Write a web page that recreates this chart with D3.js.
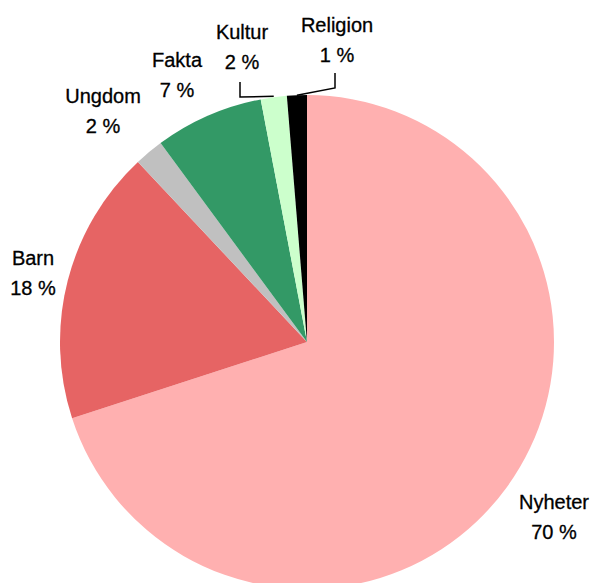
<!DOCTYPE html>
<html><head><meta charset="utf-8">
<script src="https://cdn.jsdelivr.net/npm/d3@7"></script>
<style>body{margin:0;background:#fff}svg{display:block}</style>
</head><body>
<svg id="c" width="593" height="583"></svg>
<script>
const categories = ["Nyheter","Barn","Ungdom","Fakta","Kultur","Religion"];
const values = [70.0, 18.0, 1.9, 7.1, 1.7, 1.3];
const percentLabels = ["70 %","18 %","2 %","7 %","2 %","1 %"];
const colors = ["#FFB0B0","#E66464","#C0C0C0","#339966","#CCFFCC","#000000"];

const svg = d3.select("#c");
const cx = 307, cy = 342, r = 247;
const g = svg.append("g").attr("transform", `translate(${cx},${cy})`);
const data = categories.map((c,i)=>({cat:c, value:values[i], label:percentLabels[i], color:colors[i]}));
const pie = d3.pie().value(d=>d.value).sort(null);
const arcs = pie(data);
const arc = d3.arc().innerRadius(0).outerRadius(r);
g.selectAll("path.s").data(arcs).join("path").attr("class","s")
  .attr("d", arc).attr("fill", d=>d.data.color);

// label positions (offsets from center, chosen to match layout)
const labelPos = {
  "Nyheter":[247,167], "Barn":[-274,-77], "Ungdom":[-204,-239],
  "Fakta":[-130,-275], "Kultur":[-65,-303], "Religion":[30,-310]
};
const lbl = g.selectAll("g.l").data(arcs).join("g").attr("class","l")
  .attr("transform", d=>`translate(${labelPos[d.data.cat][0]},${labelPos[d.data.cat][1]})`)
  .attr("font-family","'Liberation Sans', Arial, sans-serif").attr("font-size",20)
  .attr("text-anchor","middle").attr("fill","#000")
  .attr("stroke","#000").attr("stroke-width",0.3);
lbl.append("text").attr("y",0).text(d=>d.data.cat);
lbl.append("text").attr("y",30).text(d=>d.data.label);

// leader lines for small slices
function edgePoint(a){ return [r*Math.sin(a), -r*Math.cos(a)]; }
const kultur = arcs[4], religion = arcs[5];
const kp = edgePoint((kultur.startAngle+kultur.endAngle)/2);
const rp = edgePoint((religion.startAngle+religion.endAngle)/2);
const line = d3.line();
g.append("path").attr("d", line([[-67,-260],[-67,-245],[kp[0],kp[1]-1]]))
  .attr("fill","none").attr("stroke","#000").attr("stroke-width",1.5);
g.append("path").attr("d", line([[rp[0],rp[1]],[28,-254],[28,-269]]))
  .attr("fill","none").attr("stroke","#000").attr("stroke-width",1.5);
</script>
</body></html>
